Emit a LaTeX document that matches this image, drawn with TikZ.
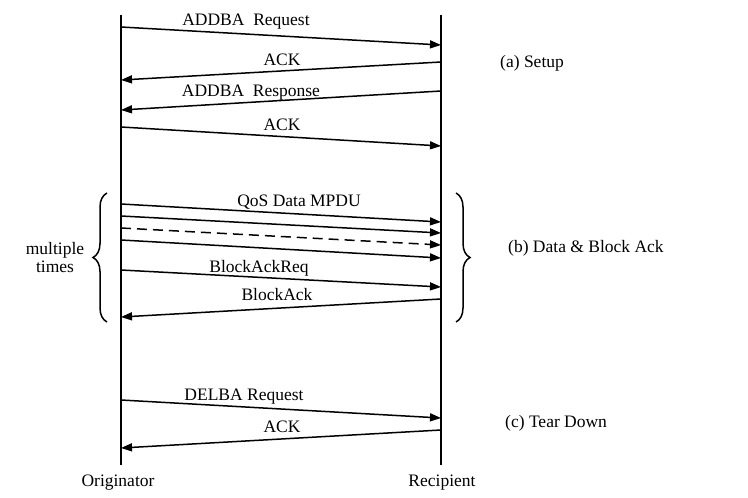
\documentclass[tikz,border=0pt]{standalone}
\usepackage{fontspec}
\setmainfont{Liberation Serif}
\usetikzlibrary{arrows.meta,decorations.pathreplacing}
\begin{document}
\begin{tikzpicture}[x=1pt,y=-1pt,
  every node/.style={font=\fontsize{17.5}{20}\selectfont, inner sep=0pt},
  life/.style={line width=2pt},
  msg/.style={line width=1.5pt, -{Triangle[length=11pt,width=8pt]}},
  dmsg/.style={msg, dash pattern=on 10pt off 6pt},
  bracestyle/.style={line width=1.5pt, decorate, decoration={brace, amplitude=14pt}}]
\useasboundingbox (0,0) rectangle (748,498);
% lifelines
\coordinate (oT) at (121,15); \coordinate (oB) at (121,465);
\coordinate (rT) at (441,15); \coordinate (rB) at (441,465);
\draw[life] (oT) -- (oB);
\draw[life] (rT) -- (rB);
% (a) Setup
\coordinate (m1a) at (121,27);  \coordinate (m1b) at (441,45);
\coordinate (m2a) at (441,62);  \coordinate (m2b) at (121,80);
\coordinate (m3a) at (441,91);  \coordinate (m3b) at (121,110);
\coordinate (m4a) at (121,127); \coordinate (m4b) at (441,146);
\draw[msg] (m1a) -- (m1b);
\draw[msg] (m2a) -- (m2b);
\draw[msg] (m3a) -- (m3b);
\draw[msg] (m4a) -- (m4b);
\node (l1) at (246,22) {ADDBA\ \ Request};
\node (l2) at (282,60) {ACK};
\node (l3) at (251,93) {ADDBA\ \ Response};
\node (l4) at (282,125) {ACK};
% (b) Data & Block Ack
\coordinate (d1a) at (121,204); \coordinate (d1b) at (441,222);
\coordinate (d2a) at (121,216); \coordinate (d2b) at (441,233);
\coordinate (d3a) at (121,228); \coordinate (d3b) at (441,245);
\coordinate (d4a) at (121,240); \coordinate (d4b) at (441,258);
\coordinate (d5a) at (121,270); \coordinate (d5b) at (441,287);
\coordinate (d6a) at (441,299); \coordinate (d6b) at (121,317);
\draw[msg] (d1a) -- (d1b);
\draw[msg] (d2a) -- (d2b);
\draw[dmsg] (d3a) -- (d3b);
\draw[msg] (d4a) -- (d4b);
\draw[msg] (d5a) -- (d5b);
\draw[msg] (d6a) -- (d6b);
\node (l5) at (299,202) {QoS Data MPDU};
\node (l6) at (259,268) {BlockAckReq};
\node (l7) at (277,295) {BlockAck};
% braces
\coordinate (bl1) at (107,322); \coordinate (bl2) at (107,193);
\coordinate (br1) at (456,193); \coordinate (br2) at (456,322);
\draw[bracestyle] (bl1) -- (bl2);
\draw[bracestyle] (br1) -- (br2);
\node[align=center] (mt) at (55,258) {multiple\\[-2pt]times};
% (c) Tear Down
\coordinate (t1a) at (121,400); \coordinate (t1b) at (441,418);
\coordinate (t2a) at (441,430); \coordinate (t2b) at (121,448);
\draw[msg] (t1a) -- (t1b);
\draw[msg] (t2a) -- (t2b);
\node (l8) at (244,397) {DELBA Request};
\node (l9) at (282,427) {ACK};
% lifeline names
\node (orig) at (118,483) {Originator};
\node (reci) at (442,483) {Recipient};
% phase labels
\node[anchor=west] (pa) at (500,63) {(a) Setup};
\node[anchor=west] (pb) at (508,248) {(b) Data \& Block Ack};
\node[anchor=west] (pc) at (505,423) {(c) Tear Down};
\end{tikzpicture}
\end{document}
